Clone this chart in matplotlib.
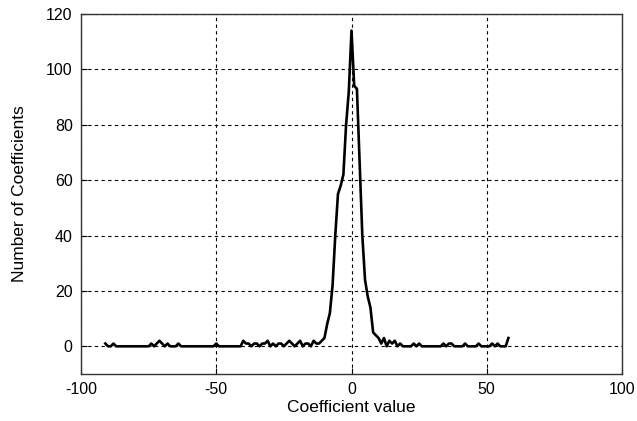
import matplotlib
matplotlib.use("Agg")
import matplotlib.pyplot as plt

# bin centres (coefficient value) and counts
coef_values = list(range(-91, 59))
counts = [
    1, 0, 0, 1, 0, 0, 0, 0, 0, 0,   # -91..-82
    0, 0, 0, 0, 0, 0, 0, 1, 0, 1,   # -81..-72
    2, 1, 0, 1, 0, 0, 0, 1, 0, 0,   # -71..-62
    0, 0, 0, 0, 0, 0, 0, 0, 0, 0,   # -61..-52
    0, 1, 0, 0, 0, 0, 0, 0, 0, 0,   # -51..-42
    0, 2, 1, 1, 0, 1, 1, 0, 1, 1,   # -41..-32
    2, 0, 1, 0, 1, 1, 0, 1, 2, 1,   # -31..-22
    0, 1, 2, 0, 1, 1, 0, 2, 1, 1,   # -21..-12
    2, 3, 8, 12, 22, 40, 55, 58, 62, 80,   # -11..-2
    92, 114, 94, 93, 66, 40, 24, 18, 14, 5,  # -1..8
    4, 3, 1, 3, 0, 2, 1, 2, 0, 1,   # 9..18
    0, 0, 0, 0, 1, 0, 1, 0, 0, 0,   # 19..28
    0, 0, 0, 0, 0, 1, 0, 1, 1, 0,   # 29..38
    0, 0, 0, 1, 0, 0, 0, 0, 1, 0,   # 39..48
    0, 0, 0, 1, 0, 1, 0, 0, 0, 3,   # 49..58
]

xticks = [-100, -50, 0, 50, 100]
yticks = [0, 20, 40, 60, 80, 100, 120]

plt.rcParams['font.family'] = ['Liberation Sans', 'DejaVu Sans']
plt.rcParams['axes.unicode_minus'] = False

fig = plt.figure(figsize=(6.37, 4.21), dpi=100)
ax = fig.add_axes([81/637, 1-374/421, 541/637, 360/421])

ax.plot(coef_values, counts, color='black', linewidth=1.9)

ax.set_xlim(-100, 100)
ax.set_ylim(-10, 120)
ax.set_xticks(xticks)
ax.set_yticks(yticks)
ax.grid(True, color='black', linestyle=(0, (3, 3)), linewidth=0.8)
ax.tick_params(direction='in', length=4, labelsize=11.5, color='black', pad=6)
for s in ax.spines.values():
    s.set_linewidth(1.0)
    s.set_color('#333333')

ax.set_xlabel('Coefficient value', fontsize=12.5, labelpad=2)
ax.set_ylabel('Number of Coefficients', fontsize=12.5, labelpad=14)

fig.savefig('out.png', dpi=100)
